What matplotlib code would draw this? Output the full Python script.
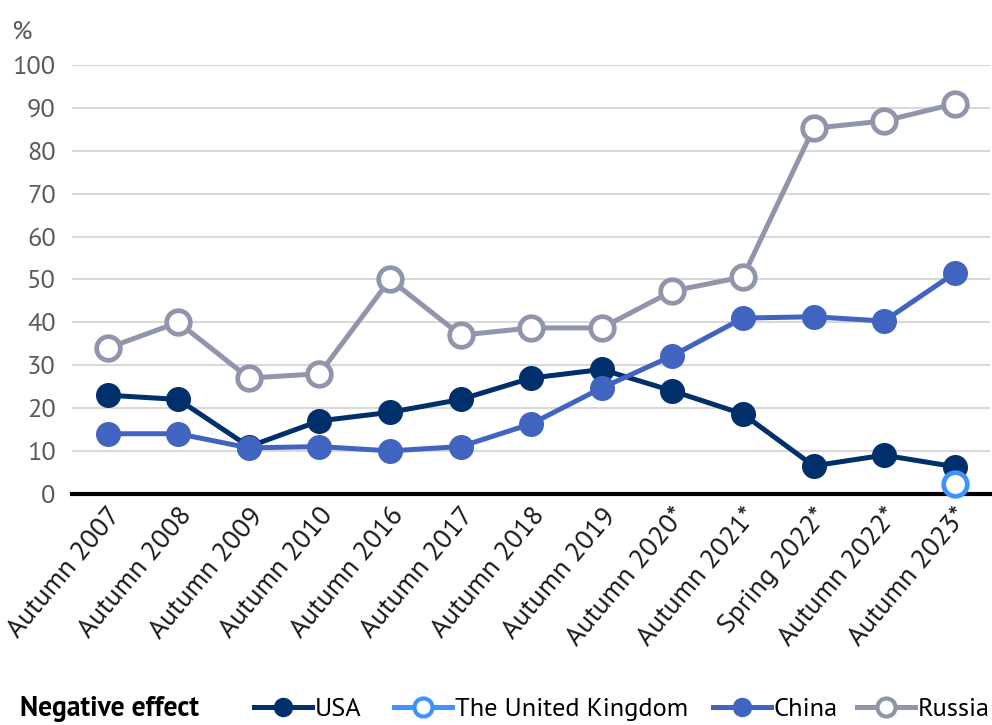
import matplotlib.pyplot as plt
from matplotlib.lines import Line2D

plt.rcParams['font.family'] = ['PT Sans', 'PT Sans Narrow', 'Open Sans', 'DejaVu Sans']

periods = ['Autumn 2007', 'Autumn 2008', 'Autumn 2009', 'Autumn 2010',
           'Autumn 2016', 'Autumn 2017', 'Autumn 2018', 'Autumn 2019',
           'Autumn 2020*', 'Autumn 2021*', 'Spring 2022*', 'Autumn 2022*',
           'Autumn 2023*']
usa = [23, 22, 11, 17, 19, 22, 27, 29, 24, 18.6, 6.5, 9, 6.3]
uk = [None] * 12 + [2.2]
china = [14, 14, 10.7, 11, 10, 11, 16.3, 24.7, 32.2, 41, 41.3, 40.3, 51.5]
russia = [34, 40, 27, 28, 50, 37, 38.7, 38.7, 47.3, 50.6, 85.3, 87, 91]

c_usa = '#00306b'
c_uk = '#3f93ff'
c_china = '#4264c1'
c_russia = '#9195ab'

fig = plt.figure(figsize=(9.92, 7.25), dpi=100)
ax = fig.add_axes([0.073, 0.319, 0.925, 0.591])

x = list(range(len(periods)))

ax.plot(x, russia, color=c_russia, lw=3.6, marker='o', ms=17,
        mfc='white', mec=c_russia, mew=3.4, clip_on=False, zorder=3)
ax.plot(x, usa, color=c_usa, lw=3.6, marker='o', ms=17,
        mfc=c_usa, mec=c_usa, clip_on=False, zorder=4)
ax.plot(x, china, color=c_china, lw=3.6, marker='o', ms=17,
        mfc=c_china, mec=c_china, clip_on=False, zorder=5)
ax.plot(x[-1:], uk[-1:], color=c_uk, lw=0, marker='o', ms=17,
        mfc='white', mec=c_uk, mew=3.4, clip_on=False, zorder=6)

ax.set_xlim(-0.5, len(periods) - 0.5)
ax.set_ylim(0, 100)
ax.set_yticks(range(0, 101, 10))
ax.yaxis.grid(True, color='#d9d9d9', lw=1.5)
ax.set_axisbelow(True)

for s in ['top', 'right', 'left']:
    ax.spines[s].set_visible(False)
ax.spines['bottom'].set_linewidth(3)
ax.spines['bottom'].set_color('black')
ax.spines['bottom'].set_zorder(2)

ax.tick_params(axis='y', length=0, pad=12, labelsize=19, labelcolor='#595959')
ax.tick_params(axis='x', length=0, pad=7, labelsize=20, labelcolor='#1a1a1a')
ax.set_xticks(x)
ax.set_xticklabels(periods, rotation=50, ha='right', va='top',
                   rotation_mode='anchor')

fig.text(0.022, 0.972, '%', fontsize=19, color='#595959', ha='center', va='top')

fig.text(0.02, 0.022, 'Negative effect', fontsize=20, fontweight='bold',
         color='black', ha='left', va='center')

# legend entries placed one by one
names = ['USA', 'The United Kingdom', 'China', 'Russia']
colors = [c_usa, c_uk, c_china, c_russia]
faces = [c_usa, 'white', c_china, 'white']
starts = [0.256, 0.397, 0.719, 0.864]
for name, c, fc, sx in zip(names, colors, faces, starts):
    h = Line2D([], [], color=c, lw=3.6, marker='o', ms=13, mfc=fc, mec=c,
               mew=3 if fc == 'white' else 1)
    fig.legend([h], [name], loc='center left', bbox_to_anchor=(sx, 0.022),
               frameon=False, fontsize=19, handlelength=2.2, handletextpad=0.1,
               borderaxespad=0, borderpad=0)

fig.savefig('out.png', dpi=100)
